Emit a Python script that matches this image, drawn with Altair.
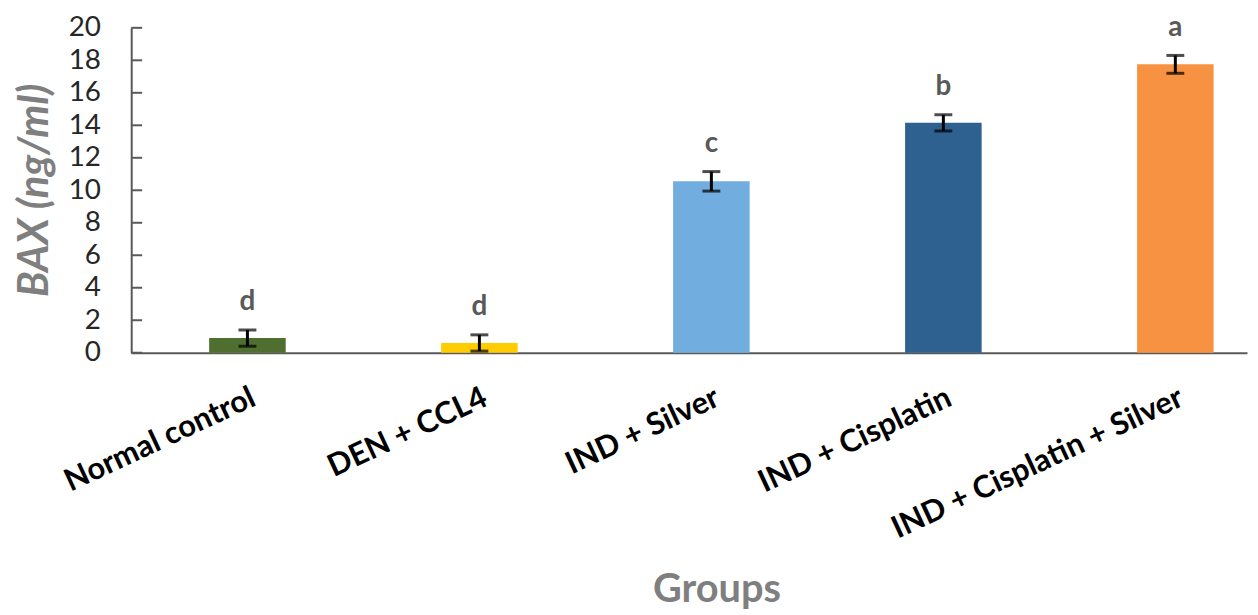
import altair as alt
import pandas as pd

groups = ["Normal control", "DEN + CCL4", "IND + Silver", "IND + Cisplatin", "IND + Cisplatin + Silver"]
means = [0.9, 0.6, 10.55, 14.15, 17.75]
errs = [0.5, 0.5, 0.6, 0.5, 0.55]
letters = ["d", "d", "c", "b", "a"]
colors = ["#4E6F2F", "#FFCC00", "#71ADDE", "#2E6190", "#F69242"]
y_ticks = [0, 2, 4, 6, 8, 10, 12, 14, 16, 18, 20]

df = pd.DataFrame({"group": groups, "mean": means, "err": errs, "letter": letters})
df["low"] = df["mean"] - df["err"]
df["high"] = df["mean"] + df["err"]
ticks_df = pd.DataFrame({"t": y_ticks})

FONT = "Lato"
AXIS_COL = "#595959"

xscale = alt.Scale(domain=groups, paddingInner=0.67, paddingOuter=0.24, align=0.7)
yscale = alt.Scale(domain=[0, 20])

x_axis = alt.Axis(
    title="Groups",
    labelAngle=335,
    labelAlign="right",
    labelBaseline="top",
    labelFontSize=31,
    labelFontWeight="bold",
    labelColor="#000000",
    labelFont=FONT,
    labelPadding=30,
    labelLimit=0,
    labelOverlap=False,
    ticks=False,
    domainColor=AXIS_COL,
    domainWidth=2,
    titleFont=FONT,
    titleFontSize=40,
    titleFontWeight="bold",
    titleColor="#7F7F7F",
    titleX=589,
    titleY=238,
    titleBaseline="middle",
)

y_axis = alt.Axis(
    title="BAX (ng/ml)",
    values=y_ticks,
    ticks=False,
    grid=False,
    labelFontSize=28,
    labelColor="#262626",
    labelFont=FONT,
    labelPadding=31,
    labelOverlap=False,
    labelFlush=False,
    domainColor=AXIS_COL,
    domainWidth=2,
    titleFont=FONT,
    titleFontSize=42,
    titleFontWeight="bold",
    titleFontStyle="italic",
    titleColor="#7F7F7F",
    titleX=-97,
    titleY=163,
    titleBaseline="middle",
    titleAngle=270,
)


def X():
    return alt.X("group:N", scale=xscale, sort=groups, axis=x_axis)


def Y(field):
    return alt.Y(field, scale=yscale, axis=y_axis)


bars = alt.Chart(df).mark_bar().encode(
    x=X(),
    y=Y("mean:Q"),
    color=alt.Color("group:N", scale=alt.Scale(domain=groups, range=colors), legend=None),
)

err_rule = alt.Chart(df).mark_rule(color="#000000", strokeWidth=3).encode(
    x=X(),
    y=Y("low:Q"),
    y2="high:Q",
)
cap_hi = alt.Chart(df).mark_tick(color="#000000", thickness=3, size=18).encode(
    x=X(),
    y=Y("high:Q"),
)
cap_lo = alt.Chart(df).mark_tick(color="#000000", thickness=3, size=18).encode(
    x=X(),
    y=Y("low:Q"),
)

labels = alt.Chart(df).mark_text(
    fontSize=28, fontWeight="bold", color="#595959", font=FONT, dy=-28, baseline="middle"
).encode(
    x=X(),
    y=Y("high:Q"),
    text="letter:N",
)

inner_ticks = alt.Chart(ticks_df).mark_rule(color=AXIS_COL, strokeWidth=2).encode(
    y=Y("t:Q"),
    x=alt.value(0),
    x2=alt.value(11),
)

chart = (
    alt.layer(bars, err_rule, cap_hi, cap_lo, labels, inner_ticks)
    .properties(
        width=1123,
        height=327,
        autosize=alt.AutoSizeParams(type="none"),
        padding={"left": 124, "top": 18, "right": 3, "bottom": 260},
    )
    .configure_view(stroke=None)
    .configure_axis(labelOverlap=False)
)

chart.save("out.html", embed_options={"renderer": "svg", "actions": False})
